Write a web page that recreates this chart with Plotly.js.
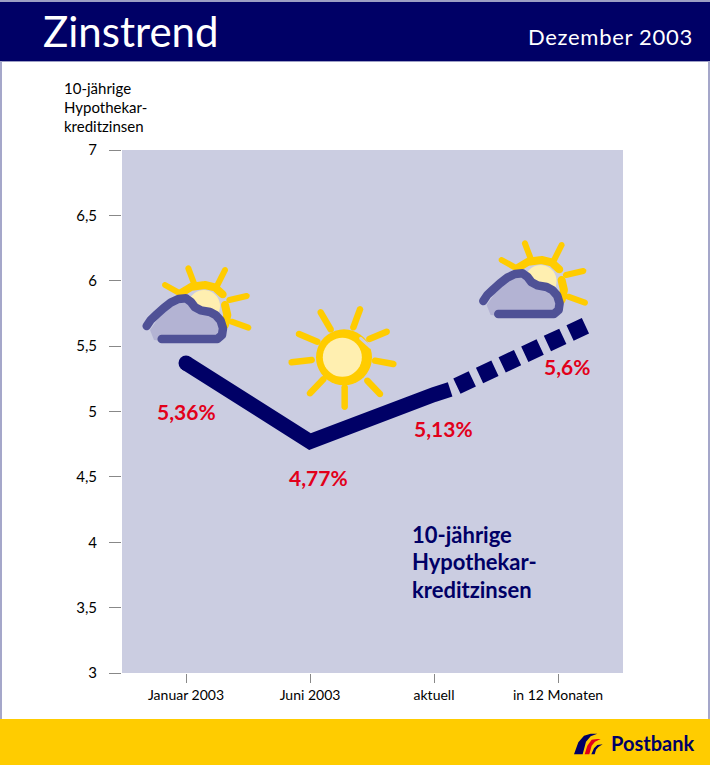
<!DOCTYPE html>
<html>
<head>
<meta charset="utf-8">
<script src="https://cdn.plot.ly/plotly-3.0.1.min.js"></script>
<style>
html,body{margin:0;padding:0;background:#fff}
#chart{width:710px;height:765px}
</style>
</head>
<body>
<div id="chart"></div>
<script>
// ---- data ----
var categories = ["Januar 2003", "Juni 2003", "aktuell", "in 12 Monaten"];
var tickPositions = [0, 1, 2, 3];
var solidX = [0, 1, 2, 2.13];
var solidY = [5.37, 4.77, 5.13, 5.17];
var dashX = [2.13, 3.23];
var dashY = [5.17, 5.66];
var rateLabels = ["5,36%", "4,77%", "5,13%", "5,6%"];
var yTicks = [3, 3.5, 4, 4.5, 5, 5.5, 6, 6.5, 7];
var yTickLabels = ["3", "3,5", "4", "4,5", "5", "5,5", "6", "6,5", "7"];

var W = 710, H = 765, L = 122, R = 623, T = 150, B = 673;
var NAVY = "#000066", RED = "#E2001A", YEL = "#FFCC00", PALE = "#FFEFB0",
    CLOUD = "#B3B3D3", EDGE = "#4F5196", BG = "#CBCDE1";
var FONT = "Lato,'Open Sans',sans-serif";

// page pixels -> paper fractions
function px(x){ return (x - L) / (R - L); }
function py(y){ return (B - y) / (B - T); }
function toPath(polys){
  return polys.map(function(p){
    return "M" + p.map(function(q){ return px(q[0]).toFixed(5) + "," + py(q[1]).toFixed(5); }).join("L") + "Z";
  }).join("");
}
function capsule(a, b, w){
  var ang = Math.atan2(b[1]-a[1], b[0]-a[0]), r = w/2, pts = [], i, t;
  for(i=0;i<=8;i++){ t = ang + Math.PI/2 + i*Math.PI/8; pts.push([a[0]+r*Math.cos(t), a[1]+r*Math.sin(t)]); }
  for(i=0;i<=8;i++){ t = ang - Math.PI/2 + i*Math.PI/8; pts.push([b[0]+r*Math.cos(t), b[1]+r*Math.sin(t)]); }
  return pts;
}
function circle(c, r){
  var pts = [], i;
  for(i=0;i<40;i++){ pts.push([c[0]+r*Math.cos(i*Math.PI/20), c[1]+r*Math.sin(i*Math.PI/20)]); }
  return pts;
}
function fillShape(polys, color){
  return {type:"path", xref:"paper", yref:"paper", path:toPath(polys), fillcolor:color,
          fillrule:"nonzero", line:{width:0}, layer:"above"};
}
function rect(x0,y0,x1,y1,color,layer){
  return {type:"rect", xref:"paper", yref:"paper", x0:px(x0), x1:px(x1), y0:py(y0), y1:py(y1),
          fillcolor:color, line:{width:0}, layer:layer||"below"};
}
function stroke(pts, w, color){
  var polys = [], i;
  for(i=0;i<pts.length-1;i++){ polys.push(capsule(pts[i], pts[i+1], w)); }
  return fillShape(polys, color);
}
// zoom-crop coordinates -> page
function mapper(ox, oy, dx, dy){
  return function(p){ return [ox + p[0]/3 + (dx||0), oy + p[1]/3 + (dy||0)]; };
}
function mapAll(list, f){ return list.map(f); }

var shapes = [
  rect(0,0,710,2,"#9C9EC4"),
  rect(0,2,710,61,NAVY),
  rect(0,61,710,62,"#9C9EC4"),
  rect(0,61,2,719,"#A5A7CA"),
  rect(708,61,710,719,"#A5A7CA"),
  rect(0,719,710,765,YEL)
];

// full sun icon
(function(){
  var m = mapper(130,230);
  var rays = [[[572,247],[602,298]],[[690,238],[670,292]],[[770,305],[718,327]],[[790,402],[735,392]],
              [[750,492],[712,452]],[[644,530],[644,472]],[[540,490],[580,448]],[[485,397],[545,390]],[[507,312],[562,335]]];
  rays.forEach(function(r){ shapes.push(stroke(mapAll(r,m), 6.5, YEL)); });
  shapes.push(fillShape([circle(m([642,382]), 28)], YEL));
  shapes.push(fillShape([circle(m([637,382]), 19.5)], PALE));
  shapes.push(fillShape([capsule(m([692,325]),m([722,352]),3)], BG));
})();

// sun behind cloud icon
function cloudIcon(dx, dy){
  var m = mapper(130,230,dx,dy);
  var rays = [[[105,165],[150,190]],[[175,115],[192,160]],[[285,120],[260,170]],[[350,198],[298,210]],[[355,293],[305,275]]];
  rays.forEach(function(r){ shapes.push(stroke(mapAll(r,m), 6, YEL)); });
  shapes.push(stroke(mapAll([[155,188],[185,170],[225,165],[255,172],[278,193]],m), 8, YEL));
  shapes.push(stroke(mapAll([[285,225],[292,255],[285,285]],m), 8, YEL));
  shapes.push(fillShape([circle(m([222,228]), 16)], PALE));
  shapes.push(fillShape([mapAll([[60,300],[85,265],[120,225],[160,208],[185,225],[215,248],[250,255],[278,285],[275,325],[95,332],[72,330]],m)], CLOUD));
  shapes.push(stroke(mapAll([[50,288],[62,270],[80,253],[100,235],[122,218],[145,207],[168,205],[182,215],[195,232],[212,241],[240,246],[258,256],[272,272],[279,295],[276,315],[262,327],[95,327]],m), 8.5, EDGE));
}
cloudIcon(0,0);
cloudIcon(336.6,-25);

// Postbank mark
(function(){
  var m = mapper(560,725);
  shapes.push(fillShape([mapAll([[42,88],[55,52],[72,32],[92,26],[112,26],[92,34],[78,50],[68,88]],m)], NAVY));
  shapes.push(fillShape([mapAll([[74,88],[82,62],[95,44],[112,42],[122,42],[105,50],[95,62],[88,88]],m)], "#E2001A"));
  shapes.push(fillShape([mapAll([[94,88],[102,70],[112,60],[128,58],[115,66],[108,74],[104,88]],m)], NAVY));
})();

function label(x, y, text, size, color, anchor, extra){
  var a = {xref:"paper", yref:"paper", x:px(x), y:py(y), text:text, showarrow:false,
    xanchor:anchor||"center", yanchor:"middle",
    font:{family:FONT, size:size, color:color}, align:"left"};
  if(extra){ a.font.weight = extra; }
  return a;
}

var annotations = [
  label(41, 31, "Zinstrend", 42, "#FFFFFF", "left"),
  label(695, 37, "<span style=\"letter-spacing:0.7px\">Dezember 2003</span>", 22, "#FFFFFF", "right"),
  label(62, 88, "10-jährige", 15, "#000000", "left"),
  label(62, 107, "Hypothekar-", 15, "#000000", "left"),
  label(62, 126, "kreditzinsen", 15, "#000000", "left"),
  label(186, 411, rateLabels[0], 21, RED, "center", 700),
  label(318, 477, rateLabels[1], 21, RED, "center", 700),
  label(443, 429, rateLabels[2], 21, RED, "center", 700),
  label(567, 366, rateLabels[3], 21, RED, "center", 700),
  label(410, 534, "10-jährige", 22, NAVY, "left", 700),
  label(410, 561, "Hypothekar-", 22, NAVY, "left", 700),
  label(410, 589, "kreditzinsen", 22, NAVY, "left", 700),
  label(609, 743, "Postbank", 20, NAVY, "left", 700)
];

var traces = [
  {x:dashX, y:dashY, mode:"lines", type:"scatter", hoverinfo:"skip",
   line:{color:NAVY, width:17, dash:"0px,7.5px,17px,8px,17px,8px,17px,8px,17px,8px,17px,8px,17px,8px"}},
  {x:solidX, y:solidY, mode:"lines", type:"scatter", hoverinfo:"skip",
   line:{color:NAVY, width:15}},
  {x:[solidX[0]], y:[solidY[0]], mode:"markers", type:"scatter", hoverinfo:"skip",
   marker:{color:NAVY, size:15}}
];

var layout = {
  width:W, height:H, autosize:false, showlegend:false,
  margin:{l:L, r:W-R, t:T, b:H-B, pad:0},
  paper_bgcolor:"#FFFFFF", plot_bgcolor:BG,
  font:{family:FONT, color:"#000000"},
  xaxis:{range:[(L-186)/124,(R-186)/124], tickmode:"array", tickvals:tickPositions, ticktext:categories,
    ticks:"outside", ticklen:9, tickwidth:1, tickcolor:"#888888", showgrid:false, zeroline:false, showline:false,
    tickfont:{family:FONT, size:14, color:"#000"}, ticklabelstandoff:0, fixedrange:true},
  yaxis:{range:[3,7], tickmode:"array", tickvals:yTicks, ticktext:yTickLabels,
    ticks:"outside", ticklen:12, tickwidth:1, tickcolor:"#888888", showgrid:false, zeroline:false, showline:false,
    tickfont:{family:FONT, size:15, color:"#000"}, ticklabelstandoff:9, fixedrange:true},
  shapes:shapes, annotations:annotations
};
Plotly.newPlot("chart", traces, layout, {displayModeBar:false, staticPlot:true});
</script>
</body>
</html>
